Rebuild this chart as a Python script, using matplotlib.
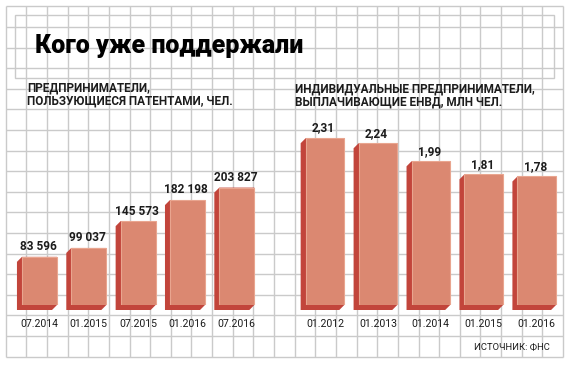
import numpy as np
import matplotlib.pyplot as plt
from matplotlib.patches import Rectangle, Polygon

# data
left_dates = ["07.2014", "01.2015", "07.2015", "01.2016", "07.2016"]
left_values = [83596, 99037, 145573, 182198, 203827]
right_dates = ["01.2012", "01.2013", "01.2014", "01.2015", "01.2016"]
right_values = [2.31, 2.24, 1.99, 1.81, 1.78]

title = "Кого уже поддержали"
left_head = "ПРЕДПРИНИМАТЕЛИ,\nПОЛЬЗУЮЩИЕСЯ ПАТЕНТАМИ, ЧЕЛ."
right_head = "ИНДИВИДУАЛЬНЫЕ ПРЕДПРИНИМАТЕЛИ,\nВЫПЛАЧИВАЮЩИЕ ЕНВД, МЛН ЧЕЛ."
source = "ИСТОЧНИК: ФНС"

W, H = 570, 366
FRONT = "#DB8871"
SIDE = "#C2453B"
EDGE = "#E9A58F"
GRID = "#CACACA"
INK = "#1c1c1c"
NARROW = ["Liberation Sans Narrow", "Roboto", "DejaVu Sans"]

fig = plt.figure(figsize=(W / 100, H / 100), dpi=100)

# background grid, in pixel units
bg = fig.add_axes([0, 0, 1, 1])
bg.set_xlim(0, W)
bg.set_ylim(H, 0)
bg.axis("off")
gx = 5.7 + 20.64 * np.arange(28)
gy = 6.4 + 20.6 * np.arange(18)
bg.vlines(gx, gy[0], gy[-1], color=GRID, lw=1)
bg.hlines(gy, gx[0], gx[-1], color=GRID, lw=1)
bg.add_patch(Rectangle((15, 15), 539, 63, facecolor="white", edgecolor=GRID, lw=1))

bg.text(35, 46, title, fontsize=18, fontweight="black", family=["Roboto", "DejaVu Sans"],
        color="black", va="center", ha="left")
bg.text(27, 94.5, left_head, fontsize=8.5, fontweight="bold", family=NARROW, color=INK,
        va="center", ha="left", linespacing=1.05)
bg.text(295, 95.5, right_head, fontsize=8.5, fontweight="bold", family=NARROW, color=INK,
        va="center", ha="left", linespacing=1.05)
bg.text(550, 346.5, source, fontsize=6.8, family=NARROW, color=INK, va="center", ha="right")


def px_axes(x0, x1, y_top, y_bot):
    return fig.add_axes([x0 / W, 1 - y_bot / H, (x1 - x0) / W, (y_bot - y_top) / H])


def draw_panel(ax, dates, values, width, ymax, px_w, fmt):
    n = len(values)
    xs = np.arange(n)
    ax.set_xlim(-0.5, n - 0.5)
    ax.set_ylim(0, ymax)
    ax.set_facecolor("none")
    for s in ax.spines.values():
        s.set_visible(False)
    ax.set_yticks([])
    # depth of the 3D shadow, 5 px down-left, in data units
    dx = 5 * n / px_w
    dy = 5 * ymax / 180
    for x, v in zip(xs, values):
        a, b = x - width / 2, x + width / 2
        ax.add_patch(Polygon([(a - dx, v - dy), (a, v), (b, v), (b, 0),
                              (b - dx, -dy), (a - dx, -dy)],
                             closed=True, facecolor=SIDE, edgecolor="none",
                             clip_on=False, zorder=2))
    ax.bar(xs, values, width=width, color=FRONT, edgecolor=EDGE, lw=0.8, zorder=3)
    for x, v in zip(xs, values):
        ax.annotate(fmt(v), (x, v), xytext=(-1, 7.3), textcoords="offset points",
                    ha="center", va="center", fontsize=8.6, fontweight="bold",
                    family=["Roboto", "DejaVu Sans"], color=INK)
    ax.set_xticks(xs, dates)
    ax.tick_params(axis="x", length=0, pad=10.3, labelsize=7.6, labelcolor=INK)
    for lab in ax.get_xticklabels():
        lab.set_family(["Roboto", "DejaVu Sans"])


ax1 = px_axes(14.8, 261.5, 125, 305)
draw_panel(ax1, left_dates, left_values, 0.71, 180 / 5.76e-4, 261.5 - 14.8,
           lambda v: f"{v:,}".replace(",", " "))

ax2 = px_axes(298.5, 563.2, 125, 305)
draw_panel(ax2, right_dates, right_values, 0.73, 180 / 72.2, 563.2 - 298.5,
           lambda v: f"{v:.2f}".replace(".", ","))

fig.savefig("out.png", dpi=100)
